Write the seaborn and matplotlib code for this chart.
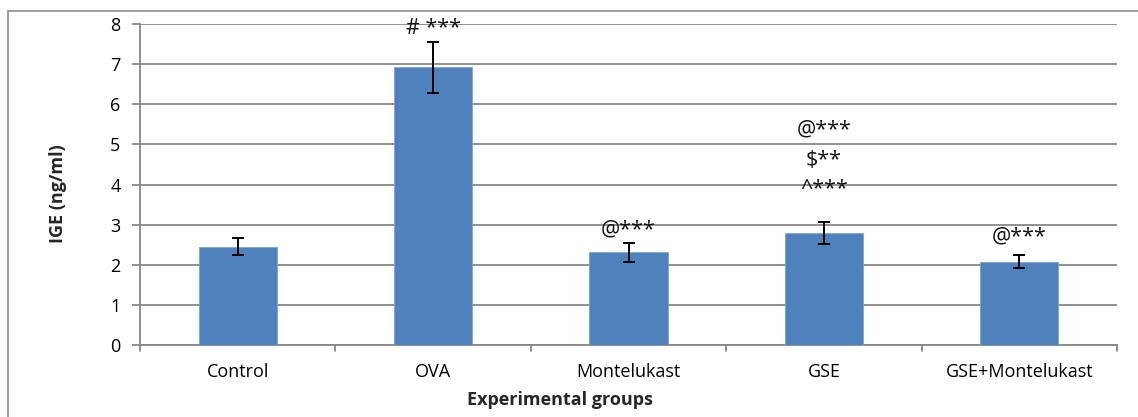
import matplotlib
matplotlib.use("Agg")
import matplotlib.pyplot as plt
import seaborn as sns
import pandas as pd
from matplotlib.lines import Line2D

groups = ["Control", "OVA", "Montelukast", "GSE", "GSE+Montelukast"]
ige_mean = [2.45, 6.92, 2.31, 2.79, 2.08]
ige_err = [0.21, 0.63, 0.24, 0.28, 0.17]
# annotation lines per group (text, y-centre in data units)
annot_text = [[], ["# ***"], ["@***"], ["@***", "$**", "^***"], ["@***"]]
annot_y = [[], [7.88], [2.87], [5.36, 4.61, 3.87], [2.70]]
yticks = [0, 1, 2, 3, 4, 5, 6, 7, 8]

sns.set_theme(style="white")
plt.rcParams["font.family"] = ["Open Sans", "DejaVu Sans"]

df = pd.DataFrame({"group": groups, "ige": ige_mean})

fig = plt.figure(figsize=(11.38, 4.17), dpi=100)
ax = fig.add_axes([140 / 1138, 1 - 345 / 417, (1117 - 140) / 1138, (345 - 24) / 417])

grid_c = "#878787"
sns.barplot(data=df, x="group", y="ige", ax=ax, color="#4F81BD", width=0.4,
            saturation=1, edgecolor="#7FA3D0", linewidth=0.6, zorder=3)
ax.errorbar(range(len(groups)), ige_mean, yerr=ige_err, fmt="none", ecolor="black",
            elinewidth=1.4, capsize=4.5, capthick=1.4, zorder=4)

for i, (txts, ys) in enumerate(zip(annot_text, annot_y)):
    for t, y in zip(txts, ys):
        ax.text(i, y, t, ha="center", va="center", fontsize=15.5, color="#111111", zorder=5)

ax.set_ylim(0, 8)
ax.set_xlim(-0.5, len(groups) - 0.5)
ax.set_yticks(yticks)
ax.yaxis.grid(True, color=grid_c, linewidth=1.3, zorder=0)
ax.set_axisbelow(True)
for s in ["top", "right"]:
    ax.spines[s].set_visible(False)
ax.spines["left"].set_color(grid_c)
ax.spines["left"].set_linewidth(1.3)
ax.spines["bottom"].set_color(grid_c)
ax.spines["bottom"].set_linewidth(1.3)

ax.tick_params(axis="y", left=True, length=6, width=1.3, color=grid_c, labelsize=13, pad=8,
               labelcolor="black")
ax.tick_params(axis="x", bottom=False, labelsize=13, pad=7, labelcolor="black")
# category boundary tick marks
for b in [i - 0.5 for i in range(len(groups) + 1)]:
    ax.plot([b, b], [0, -0.16], color=grid_c, lw=1.3, clip_on=False, zorder=2)

ax.set_xlabel("")
ax.set_ylabel("")
fig.text(560 / 1138, 1 - 400 / 417, "Experimental groups", ha="center", va="center",
         fontsize=13, fontweight="bold")
fig.text(58 / 1138, 1 - 194 / 417, "IGE (ng/ml)", ha="center", va="center",
         fontsize=13, fontweight="bold", rotation=90)

# outer chart-area border
fig.add_artist(Line2D([8 / 1138, 8 / 1138], [0, 1 - 11 / 417], transform=fig.transFigure,
                      color="#8c8c8c", lw=1.2))
fig.add_artist(Line2D([8 / 1138, 1], [1 - 11 / 417, 1 - 11 / 417], transform=fig.transFigure,
                      color="#8c8c8c", lw=1.2))

fig.savefig("out.png", dpi=100)
